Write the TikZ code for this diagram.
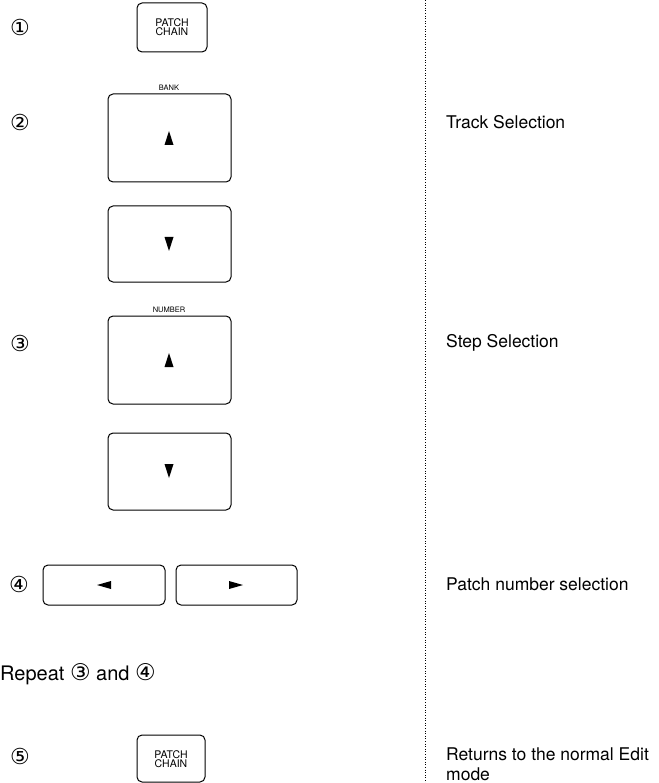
\documentclass[tikz,border=0pt]{standalone}
\usepackage{fontspec}
\setmainfont{TeX Gyre Heros}
\newfontfamily\symfont{DejaVu Sans}
\begin{document}
\begin{tikzpicture}[x=1pt,y=-1pt,
  key/.style={draw,line width=1pt,rounded corners=5pt,inner sep=0pt},
  keytext/.style={font=\fontsize{10.5}{10}\selectfont,align=center,inner sep=0pt},
  keylabel/.style={font=\fontsize{7.5}{7.5}\selectfont,inner sep=0pt},
  num/.style={font=\symfont\fontsize{22}{22}\selectfont,inner sep=0pt},
  desc/.style={font=\fontsize{17.5}{20}\selectfont,anchor=west,align=left,inner sep=0pt},
  tri/.style={fill=black,draw=none}]
\useasboundingbox (0,0) rectangle (658,783);

% divider between actions and descriptions
\draw[line width=0.6pt,dotted] (425,0) -- (425,783);

% step 1
\node[num] (n1) at (20,27) {①};
\draw[key] (137,3) rectangle (207,52);
\node[keytext] (pc1) at (172,27) {PATCH\\[-1pt]CHAIN};

% step 2: BANK keys
\node[num] (n2) at (20,122) {②};
\node[keylabel] (bank) at (169,88) {BANK};
\draw[key] (108,94) rectangle (231,182);
\draw[tri] (169,131) -- (173.5,145) -- (164.5,145) -- cycle;
\draw[key] (108,206) rectangle (231,282);
\draw[tri] (169,251) -- (173.5,237) -- (164.5,237) -- cycle;
\node[desc] (track) at (446,122) {Track Selection};

% step 3: NUMBER keys
\node[num] (n3) at (20,343) {③};
\node[keylabel] (number) at (169,310) {NUMBER};
\draw[key] (108,316) rectangle (231,404);
\draw[tri] (169,353) -- (173.5,367) -- (164.5,367) -- cycle;
\draw[key] (108,433) rectangle (231,510);
\draw[tri] (169,478) -- (173.5,464) -- (164.5,464) -- cycle;
\node[desc] (stepsel) at (446,343) {Step Selection};

% step 4: cursor keys
\node[num] (n4) at (19,584) {④};
\draw[key] (43,565) rectangle (165,605);
\draw[tri] (97,585) -- (111,581) -- (111,589) -- cycle;
\draw[key] (176,565) rectangle (297,605);
\draw[tri] (243,585) -- (229,581) -- (229,589) -- cycle;
\node[desc] (patchsel) at (446,584) {Patch number selection};

% repeat note
\node[desc,font=\fontsize{20}{22}\selectfont] (rep) at (0,674)
  {Repeat {\symfont\fontsize{23}{23}\selectfont ③} and {\symfont\fontsize{23}{23}\selectfont ④}};

% step 5
\node[num] (n5) at (20,756) {⑤};
\draw[key] (137,735) rectangle (205,782);
\node[keytext] (pc5) at (171,759) {PATCH\\[-1pt]CHAIN};
\node[desc] (ret) at (446,764) {Returns to the normal Edit\\mode};
\end{tikzpicture}
\end{document}
